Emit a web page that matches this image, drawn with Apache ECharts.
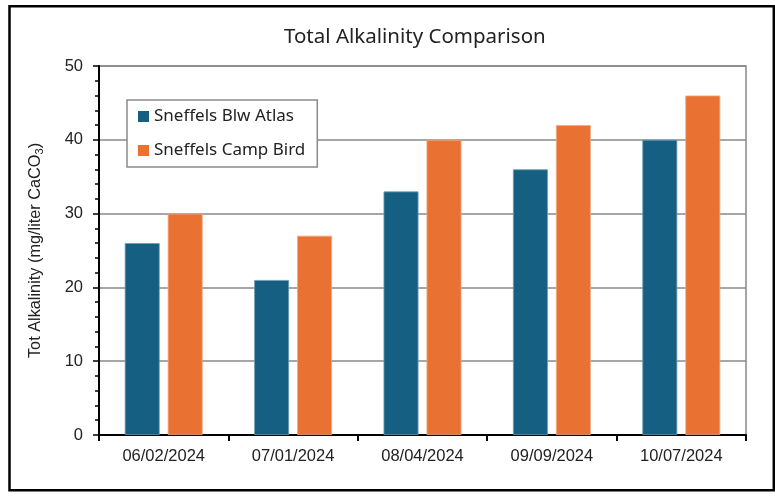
<!DOCTYPE html>
<html>
<head>
<meta charset="utf-8">
<script src="https://cdn.jsdelivr.net/npm/echarts@6/dist/echarts.min.js"></script>
<style>
html,body{margin:0;padding:0;background:#fff;}
#chart{width:775px;height:497px;}
</style>
</head>
<body>
<div id="chart"></div>
<script>
const categories = ['06/02/2024', '07/01/2024', '08/04/2024', '09/09/2024', '10/07/2024'];
const blwAtlas = [26, 21, 33, 36, 40];
const campBird = [30, 27, 40, 42, 46];
const seriesNames = ['Sneffels Blw Atlas', 'Sneffels Camp Bird'];
const titleText = 'Total Alkalinity Comparison';

const chart = echarts.init(document.getElementById('chart'), null, {renderer: 'canvas'});
const axisFont = 'Liberation Sans, Arial, sans-serif';
const uiFont = 'Noto Sans, Open Sans, sans-serif';

chart.setOption({
  animation: false,
  backgroundColor: '#fff',
  title: {
    text: titleText,
    left: 279, top: 22,
    textStyle: {fontFamily: uiFont, fontSize: 20.5, fontWeight: 'normal', color: '#222'}
  },
  graphic: [{
    type: 'rect', silent: true, z: 100,
    shape: {x: 9.5, y: 6.2, width: 764.3, height: 484},
    style: {fill: null, stroke: '#000', lineWidth: 2.5}
  }],
  legend: {
    orient: 'vertical',
    left: 127, top: 100,
    padding: [8, 12, 8, 11],
    itemGap: 17,
    itemWidth: 11, itemHeight: 11,
    backgroundColor: '#fff',
    borderColor: '#8a8a8a', borderWidth: 1.5,
    icon: 'rect',
    itemStyle: {borderWidth: 0},
    textStyle: {fontFamily: uiFont, fontSize: 17, color: '#222'},
    data: seriesNames
  },
  grid: {
    left: 99, right: 29, top: 66, bottom: 62,
    show: true, borderColor: '#888', borderWidth: 1.5
  },
  xAxis: {
    type: 'category',
    data: categories,
    axisLine: {lineStyle: {color: '#000', width: 2}},
    axisTick: {show: true, length: 6, alignWithLabel: false, lineStyle: {color: '#000', width: 2}},
    axisLabel: {fontFamily: axisFont, fontSize: 16.5, color: '#222', margin: 13}
  },
  yAxis: {
    type: 'value',
    min: 0, max: 50, interval: 10,
    name: '{a|Tot Alkalinity (mg/liter CaCO}{s|3}{a|)}',
    nameLocation: 'middle',
    nameGap: 54,
    nameRotate: 90,
    nameTextStyle: {
      rich: {
        a: {fontFamily: axisFont, fontSize: 16.3, color: '#222', lineHeight: 19},
        s: {fontFamily: axisFont, fontSize: 11, color: '#222', lineHeight: 11, verticalAlign: 'bottom'}
      }
    },
    axisLine: {show: true, lineStyle: {color: '#000', width: 2}},
    axisTick: {show: true, length: 6, lineStyle: {color: '#000', width: 1.5}},
    minorTick: {show: true, splitNumber: 5, length: 4, lineStyle: {color: '#000', width: 1.5}},
    axisLabel: {fontFamily: axisFont, fontSize: 16.5, color: '#222', margin: 16},
    splitLine: {show: true, lineStyle: {color: '#888', width: 1.5}}
  },
  series: [
    {
      name: seriesNames[0], type: 'bar', data: blwAtlas,
      barWidth: '27%', barGap: '23%',
      itemStyle: {color: '#156082', borderColor: '#6f9cb3', borderWidth: 0.8}
    },
    {
      name: seriesNames[1], type: 'bar', data: campBird,
      barWidth: '27%', barGap: '23%',
      itemStyle: {color: '#E97132', borderColor: '#f2a985', borderWidth: 0.8}
    }
  ]
});
</script>
</body>
</html>
